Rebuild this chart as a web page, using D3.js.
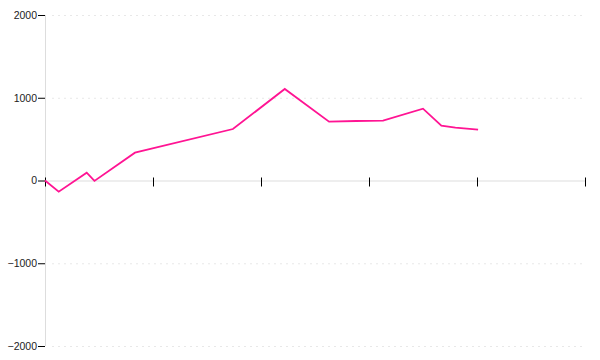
<!DOCTYPE html>
<html>
<head>
<meta charset="utf-8">
<script src="https://cdn.jsdelivr.net/npm/d3@7"></script>
<style>
  body { margin: 0; background: #fff; }
  .axis text { font-family: "Liberation Sans", Arial, sans-serif; font-size: 10.5px; fill: #222; }
</style>
</head>
<body>
<div id="chart"></div>
<script>
// data
var xValues = [0, 1.27, 3.86, 4.58, 8.33, 17.4, 22.2, 26.3, 28.8, 31.3, 35.0, 36.7, 38.0, 40.1];
var yValues = [0, -135, 95, -5, 336, 622, 1106, 711, 719, 723, 868, 662, 638, 614];
var xTicks = [0, 10, 20, 30, 40, 50];
var yTicks = [-2000, -1000, 0, 1000, 2000];

var width = 600, height = 360;
var margin = {top: 15, right: 15, bottom: 14, left: 45};

var svg = d3.select("#chart")
  .append("svg")
    .attr("width", width)
    .attr("height", height);

var x = d3.scaleLinear()
  .domain([0, 50])
  .range([margin.left, width - margin.right]);

var y = d3.scaleLinear()
  .domain([-2000, 2000])
  .range([height - margin.bottom, margin.top]);

var data = xValues.map(function(d, i) { return {x: d, y: yValues[i]}; });

// grid lines
svg.append("g")
  .selectAll("line")
  .data(yTicks.filter(function(d) { return d !== 0; }))
  .enter().append("line")
    .attr("x1", x(0) + 7)
    .attr("x2", x(50))
    .attr("y1", function(d) { return y(d) + 0.5; })
    .attr("y2", function(d) { return y(d) + 0.5; })
    .attr("stroke", "#e8e8e8")
    .attr("stroke-dasharray", "2,4");

// y axis
var yAxis = svg.append("g")
  .attr("class", "axis")
  .attr("transform", "translate(" + x(0) + ",0)")
  .call(d3.axisLeft(y).tickValues(yTicks).tickFormat(d3.format("d")).tickSize(7).tickPadding(1));
yAxis.select(".domain").attr("stroke", "#ddd").attr("d", "M0.5," + y(2000) + "V" + y(-2000));
yAxis.selectAll(".tick line").attr("stroke", "#000");

// x axis at zero
var xAxis = svg.append("g")
  .attr("class", "axis")
  .attr("transform", "translate(0," + y(0) + ")")
  .call(d3.axisBottom(x).tickValues(xTicks).tickFormat("").tickSize(6));
xAxis.select(".domain").attr("stroke", "#ddd").attr("d", "M" + x(0) + ",0.5H" + x(50));
xAxis.selectAll(".tick line").attr("stroke", "#000").attr("y1", -3);

// the line
svg.append("path")
  .datum(data)
  .attr("fill", "none")
  .attr("stroke", "#ff1493")
  .attr("stroke-width", 1.8)
  .attr("d", d3.line()
    .x(function(d) { return x(d.x); })
    .y(function(d) { return y(d.y); }));
</script>
</body>
</html>
